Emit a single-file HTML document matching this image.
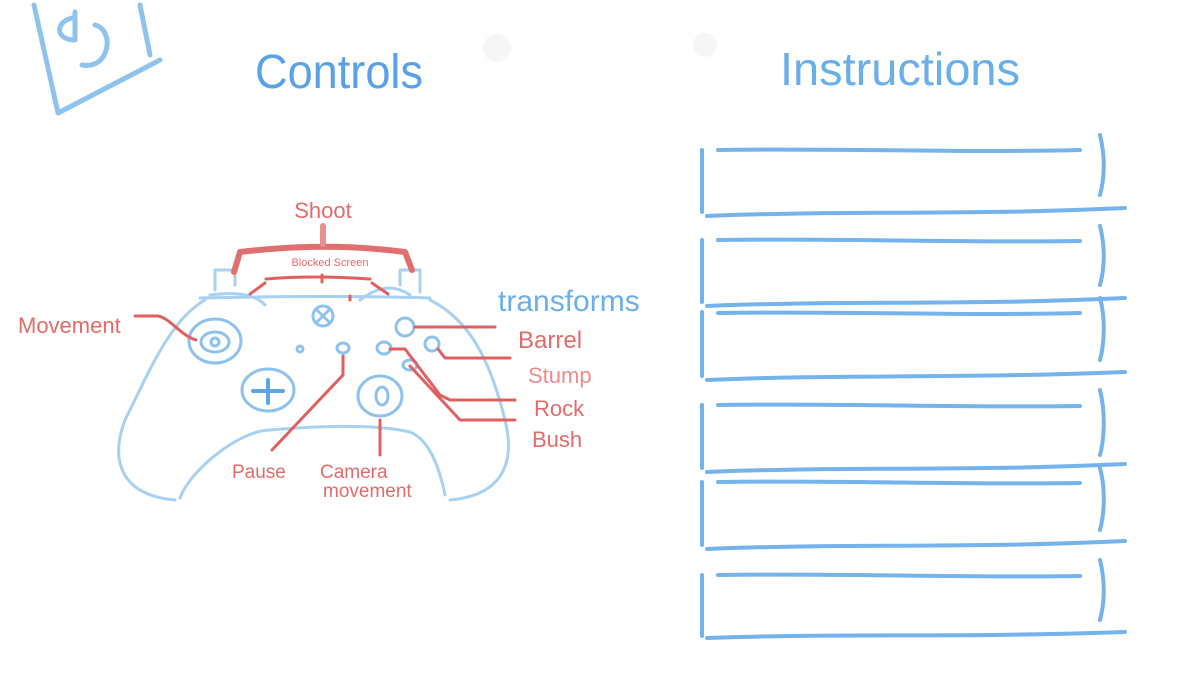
<!DOCTYPE html>
<html><head><style>
body{margin:0;background:#fff;width:1200px;height:675px;overflow:hidden}
svg{display:block}
text{font-family:"Liberation Sans",sans-serif}
</style></head><body>
<svg width="1200" height="675" viewBox="0 0 1200 675" xmlns="http://www.w3.org/2000/svg">
<g fill="none" stroke-linecap="round" stroke-linejoin="round">
<g stroke="#8fc3ee" stroke-width="5">
<path d="M34 5 L58 113 L160 60"/>
<path d="M140 5 L150 55"/>
<path d="M75 12 L75 40 M72 18 C55 22 55 40 75 40 M95 25 C115 30 110 70 82 65"/>
</g>
<circle cx="497" cy="48" r="14" fill="#f6f6f6" stroke="none"/>
<circle cx="705" cy="45" r="12" fill="#f6f6f6" stroke="none"/>
<g stroke="#74b3ec" stroke-width="4">
<path d="M702 150 V212 M718 150 C850 148 950 153 1080 150 M1100 135 C1106 160 1104 180 1100 195 M707 216 C850 210 950 216 1125 208"/>
<path d="M702 240 V302 M718 240 C850 238 950 243 1080 241 M1100 226 C1106 250 1104 270 1100 285 M707 306 C850 300 950 306 1125 298"/>
<path d="M702 312 V376 M718 313 C850 311 950 316 1080 313 M1100 298 C1106 320 1104 345 1100 360 M707 380 C850 374 950 379 1125 372"/>
<path d="M702 405 V468 M718 405 C850 403 950 408 1080 406 M1100 390 C1106 415 1104 440 1100 455 M707 472 C850 466 950 472 1125 464"/>
<path d="M702 482 V545 M718 482 C850 480 950 485 1080 483 M1100 468 C1106 490 1104 515 1100 530 M707 549 C850 543 950 549 1125 541"/>
<path d="M702 575 V636 M718 575 C850 573 950 578 1080 576 M1100 560 C1106 585 1104 605 1100 620 M707 638 C850 633 950 638 1125 632"/>
</g>
<g stroke="#a8d0f0" stroke-width="3">
<path d="M200 298 C280 296 380 296 430 298"/>
<path d="M205 300 C170 320 150 370 125 420 C110 460 120 495 175 500"/>
<path d="M430 300 C470 320 490 360 505 420 C515 460 505 495 450 500"/>
<path d="M180 498 C190 470 240 430 270 430 C330 425 380 425 410 432 C430 440 440 470 445 495"/>
<path d="M215 290 V270 H235 V285 M400 285 V270 H420 V292"/>
<path d="M210 295 C250 290 260 300 265 305 M360 300 C380 285 395 285 410 295"/>
</g>
<g stroke="#8ec2ee" stroke-width="3">
<ellipse cx="215" cy="341" rx="26" ry="22"/>
<ellipse cx="215" cy="342" rx="14" ry="10"/>
<circle cx="215" cy="342" r="4"/>
<circle cx="323" cy="316" r="10"/><path d="M316 309 L330 323 M330 309 L316 323"/>
<circle cx="300" cy="349" r="3"/>
<ellipse cx="343" cy="348" rx="6" ry="5"/>
<ellipse cx="384" cy="348" rx="7" ry="6"/>
<ellipse cx="268" cy="390" rx="26" ry="21"/>
<path d="M253 391 H283 M268 380 V403" stroke="#5aa6e6" stroke-width="4"/>
<ellipse cx="380" cy="396" rx="22" ry="20"/>
<ellipse cx="382" cy="396" rx="6" ry="9"/>
<circle cx="405" cy="327" r="9"/>
<circle cx="432" cy="344" r="7"/>
<ellipse cx="410" cy="365" rx="7" ry="5"/>
</g>
<g stroke="#e06060" stroke-width="3">
<path d="M234 272 L240 252 C300 245 350 245 405 252 L412 270" stroke-width="6" stroke="#e07070"/>
<path d="M323 226 V244" stroke-width="6" stroke="#e89090"/>
<path d="M266 279 C300 276 340 277 370 279 M322 275 V282 M265 283 L250 294 M372 283 L388 294 M350 296 V300"/>
<path d="M135 316 H158 C170 318 180 335 196 340"/>
<path d="M415 327 H495 M438 349 L445 358 H510 M390 349 H405 L440 395 L450 400 H515 M410 366 L460 420 H515"/>
<path d="M343 356 V375 L272 450"/>
<path d="M380 420 V455"/>
</g>
</g>
<g fill="#e46a6a">
<text x="323" y="218" font-size="22" text-anchor="middle">Shoot</text>
<text x="330" y="266" font-size="11" text-anchor="middle">Blocked Screen</text>
<text x="18" y="333" font-size="22">Movement</text>
<text x="518" y="348" font-size="24">Barrel</text>
<text x="528" y="383" font-size="22" fill="#f08a8a">Stump</text>
<text x="534" y="416" font-size="22">Rock</text>
<text x="532" y="447" font-size="22">Bush</text>
<text x="232" y="478" font-size="19">Pause</text>
<text x="320" y="478" font-size="19">Camera</text>
<text x="323" y="497" font-size="19">movement</text>
</g>
<text x="498" y="311" font-size="30" fill="#6aaeea">transforms</text>
<text x="255" y="88" font-size="48" fill="#5aa2e8" textLength="168" lengthAdjust="spacingAndGlyphs">Controls</text>
<text x="780" y="85" font-size="46" fill="#6aaeea" textLength="240" lengthAdjust="spacingAndGlyphs">Instructions</text>
</svg>
</body></html>
